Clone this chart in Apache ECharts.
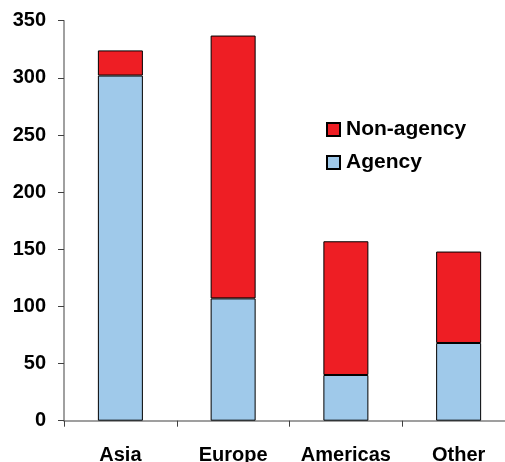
<!DOCTYPE html>
<html>
<head>
<meta charset="utf-8">
<script src="https://cdn.jsdelivr.net/npm/echarts@6/dist/echarts.min.js"></script>
<style>html,body{margin:0;padding:0;background:#fff}#c{width:505px;height:462px}</style>
</head>
<body>
<div id="c"></div>
<script>
const categories = ['Asia', 'Europe', 'Americas', 'Other'];
const agency = [302, 107, 40, 68];
const nonAgency = [22, 230, 117, 80];
const yTicks = { min: 0, max: 350, interval: 50 };

const font = 'Liberation Sans, Arial, sans-serif';
const chart = echarts.init(document.getElementById('c'), null, { renderer: 'canvas' });
chart.setOption({
  animation: false,
  backgroundColor: '#ffffff',
  grid: { left: 64, top: 20.7, width: 451, height: 400, containLabel: false, outerBoundsMode: 'none' },
  legend: {
    orient: 'vertical',
    left: 326, top: 119,
    padding: 0,
    itemWidth: 13, itemHeight: 13, itemGap: 12,
    data: ['Non-agency', 'Agency'],
    textStyle: { fontFamily: font, fontWeight: 'bold', fontSize: 21, color: '#000', padding: [0, 0, 0, 1] },
    icon: 'rect'
  },
  xAxis: {
    type: 'category',
    data: categories,
    axisLine: { lineStyle: { color: '#808080', width: 1.5 } },
    axisTick: { show: true, length: 6, inside: false, lineStyle: { color: '#404040' } },
    axisLabel: { interval: 0, fontFamily: font, fontWeight: 'bold', fontSize: 20, color: '#000', margin: 25 }
  },
  yAxis: {
    type: 'value',
    min: yTicks.min, max: yTicks.max, interval: yTicks.interval,
    axisLine: { show: true, lineStyle: { color: '#808080', width: 1.5 } },
    axisTick: { show: true, length: 6, lineStyle: { color: '#404040' } },
    splitLine: { show: false },
    axisLabel: { fontFamily: font, fontWeight: 'bold', fontSize: 20, color: '#000', margin: 18 }
  },
  series: [
    {
      name: 'Agency', type: 'bar', stack: 'total', data: agency, barWidth: 45,
      itemStyle: { color: '#9fc9ea', borderColor: '#000', borderWidth: 1 }
    },
    {
      name: 'Non-agency', type: 'bar', stack: 'total', data: nonAgency, barWidth: 45,
      itemStyle: { color: '#ee1e24', borderColor: '#000', borderWidth: 1 }
    }
  ]
});
</script>
</body>
</html>
